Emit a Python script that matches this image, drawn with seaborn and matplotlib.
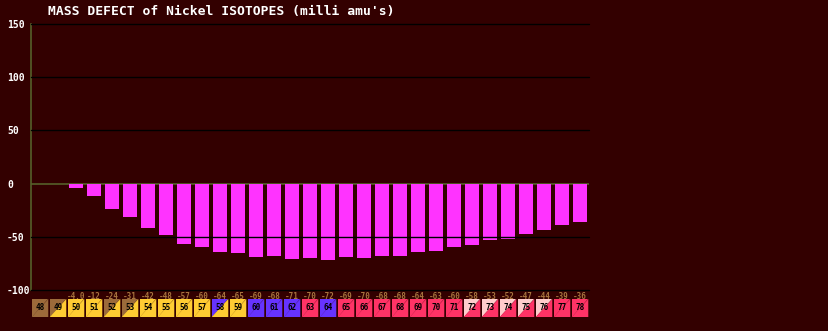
import numpy as np
import pandas as pd
import matplotlib
matplotlib.use("Agg")
import matplotlib.pyplot as plt
from matplotlib.patches import Polygon
import matplotlib.transforms as mtransforms
import seaborn as sns

# ---- data ----
isotopes = list(range(48, 79))
defects = [np.nan, np.nan, -4.0, -12, -24, -31, -42, -48, -57, -60, -64, -65,
           -69, -68, -71, -70, -72, -69, -70, -68, -68, -64, -63, -60,
           -58, -53, -52, -47, -44, -39, -36]
value_labels = ["", "", "-4.0", "-12", "-24", "-31", "-42", "-48", "-57", "-60",
                "-64", "-65", "-69", "-68", "-71", "-70", "-72", "-69", "-70",
                "-68", "-68", "-64", "-63", "-60", "-58", "-53", "-52", "-47",
                "-44", "-39", "-36"]
# decay-mode colour keys for each cell (upper-left, lower-right)
cell_keys = [("b", "b"), ("b", "y"), ("y", "y"), ("y", "y"), ("b", "y"), ("b", "y"),
             ("y", "y"), ("y", "y"), ("y", "y"), ("y", "y"), ("p", "y"), ("y", "y"),
             ("p", "p"), ("p", "p"), ("p", "p"), ("r", "r"), ("p", "p"), ("r", "r"),
             ("r", "r"), ("r", "r"), ("r", "r"), ("r", "r"), ("r", "r"), ("r", "r"),
             ("k", "r"), ("k", "r"), ("k", "r"), ("k", "r"), ("k", "r"), ("r", "r"),
             ("r", "r")]
yticks = [150, 100, 50, 0, -50, -100]
title = "MASS DEFECT of Nickel ISOTOPES (milli amu's)"

key_colors = {"b": "#9c6a3a", "y": "#ffcc33", "p": "#6633ff", "r": "#ff3366", "k": "#ffcccc"}
BG = "#330000"

df = pd.DataFrame({"A": [str(a) for a in isotopes], "defect": defects})
order = [str(a) for a in isotopes]

sns.set_style("dark")
plt.rcParams["font.family"] = ["DejaVu Sans Mono", "DejaVu Sans"]

W, H = 829, 331
fig = plt.figure(figsize=(W / 100, H / 100), dpi=100, facecolor=BG)
ax = fig.add_axes([31 / W, 1 - 290 / H, 558 / W, 266 / H])
ax.set_facecolor(BG)

sns.barplot(data=df, x="A", y="defect", order=order, color="#ff33ff",
            saturation=1, width=0.78, ax=ax, zorder=2)
for p in ax.patches:
    p.set_edgecolor("none")

ax.set_xlim(-0.5, len(isotopes) - 0.5)
ax.set_ylim(-100, 150)
ax.set_yticks(yticks)
ax.set_yticklabels([str(t) for t in yticks], color="white", fontsize=7,
                   fontweight="bold")
ax.tick_params(axis="y", length=0, pad=17.3)
for lab in ax.get_yticklabels():
    lab.set_horizontalalignment("left")
ax.set_xticks([])
ax.set_xlabel("")
ax.set_ylabel("")
ax.grid(False)
for s in ["top", "right", "bottom"]:
    ax.spines[s].set_visible(False)
ax.spines["left"].set_color("#55602a")
ax.spines["left"].set_linewidth(1.2)

for t in yticks:
    if t == 0:
        ax.axhline(t, color="#55602a", lw=1.2, zorder=1)
    else:
        ax.axhline(t, color="black", lw=1.0, zorder=3, clip_on=False)

# value labels under plot
off = mtransforms.ScaledTranslation(0, -2 / 100, fig.dpi_scale_trans)
for i, lab in enumerate(value_labels):
    if lab:
        ax.text(i, -100, lab, transform=ax.transData + off, ha="center", va="top",
                color="#a8743e", fontsize=5.5, fontweight="bold", clip_on=False)

# title
fig.text(48 / W, 1 - 11 / H, title, color="white", fontsize=9.4, fontweight="bold",
         ha="left", va="center")

# isotope cells
cax = fig.add_axes([31 / W, 1 - 317 / H, 558 / W, 18 / H])
cax.set_xlim(-0.5, len(isotopes) - 0.5)
cax.set_ylim(0, 1)
cax.axis("off")
hw = 0.46
for i, (a, (c1, c2)) in enumerate(zip(isotopes, cell_keys)):
    x0, x1 = i - hw, i + hw
    cax.add_patch(Polygon([(x0, 0), (x0, 1), (x1, 1)], closed=True,
                          facecolor=key_colors[c1], edgecolor="none"))
    cax.add_patch(Polygon([(x0, 0), (x1, 1), (x1, 0)], closed=True,
                          facecolor=key_colors[c2], edgecolor="none"))
    cax.text(i, 0.5, str(a), ha="center", va="center", color="black",
             fontsize=5.5, fontweight="bold")

fig.savefig("out.png", dpi=100, facecolor=BG)
